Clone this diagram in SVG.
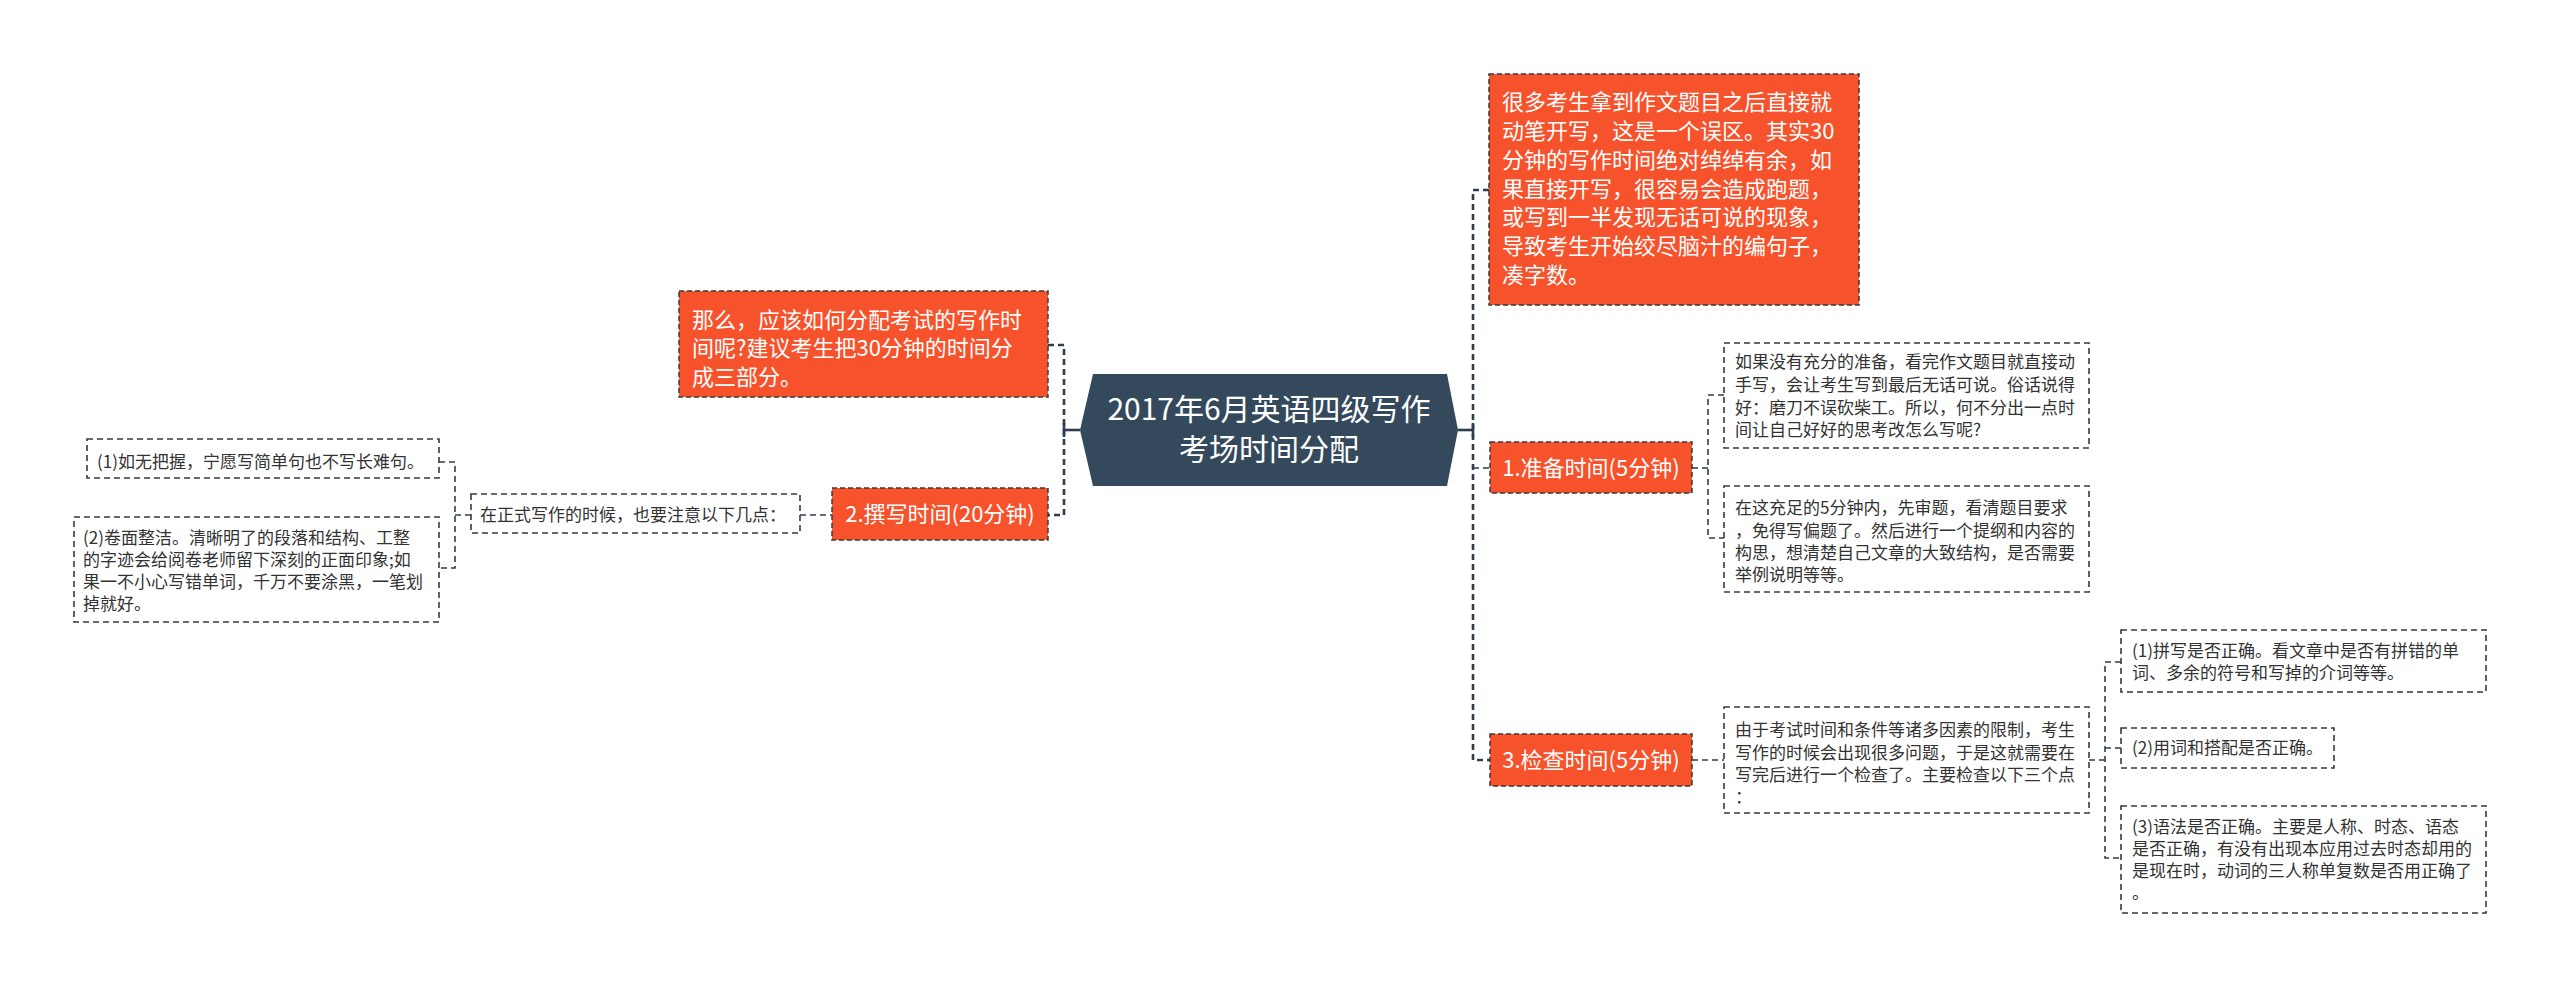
<svg xmlns="http://www.w3.org/2000/svg" width="2560" height="987" viewBox="0 0 2560 987">
<style>
.bg{fill:#ffffff}
.conn{fill:none;stroke:#2c3e50;stroke-width:1.6;stroke-dasharray:6 4}
.trunk{fill:none;stroke:#2c3e50;stroke-width:2.6;stroke-dasharray:6 4}
.stub{fill:none;stroke:#2c3e50;stroke-width:2.6}
.orange{fill:#f6522c;stroke:#3a3a3a;stroke-width:1.5;stroke-dasharray:5 3}
.plain{fill:#ffffff;stroke:#3a3a3a;stroke-width:1.6;stroke-dasharray:6 4}
.root{fill:#344a5c}
.t{font-family:"Noto Sans CJK SC","Noto Sans",sans-serif}
.tw{fill:#ffffff;font-size:22px}
.tr{fill:#ffffff;font-size:30px}
.tp{fill:#333333;font-size:17px}
</style>
<rect class="bg" x="0" y="0" width="2560" height="987"/>
<g id="connectors">
<line class="stub" x1="1458" y1="430" x2="1473" y2="430"/>
<line class="stub" x1="1473" y1="423" x2="1473" y2="437"/>
<path class="trunk" d="M1489 190 H1473 V760 H1490"/>
<line class="conn" x1="1473" y1="468" x2="1490" y2="468"/>
<line class="stub" x1="1080" y1="430" x2="1064" y2="430"/>
<line class="stub" x1="1064" y1="423" x2="1064" y2="437"/>
<path class="trunk" d="M1048 345 H1064 V515 H1048"/>
<path class="conn" d="M1692 468 H1708"/>
<path class="conn" d="M1724 395 H1708 V538 H1724"/>
<line class="conn" x1="1692" y1="760" x2="1724" y2="760"/>
<line class="conn" x1="2089" y1="760" x2="2105" y2="760"/>
<path class="conn" d="M2121 662 H2105 V858 H2121"/>
<line class="conn" x1="2105" y1="748" x2="2121" y2="748"/>
<line class="conn" x1="800" y1="515" x2="832" y2="515"/>
<line class="conn" x1="455" y1="515" x2="471" y2="515"/>
<path class="conn" d="M439 462 H455 V568 H439"/>
</g>
<g id="root">
<polygon class="root" points="1080,430 1093,374 1447,374 1458,430 1447,486 1093,486"/>
<text class="t tr" x="1269" y="420" text-anchor="middle">2017年6月英语四级写作</text>
<text class="t tr" x="1269" y="460" text-anchor="middle">考场时间分配</text>
</g>
<g id="intro-right">
<rect class="orange" x="1489" y="74" width="370" height="231"/>
<text class="t tw" x="1502" y="110">很多考生拿到作文题目之后直接就</text>
<text class="t tw" x="1502" y="139">动笔开写，这是一个误区。其实30</text>
<text class="t tw" x="1502" y="168">分钟的写作时间绝对绰绰有余，如</text>
<text class="t tw" x="1502" y="197">果直接开写，很容易会造成跑题，</text>
<text class="t tw" x="1502" y="225">或写到一半发现无话可说的现象，</text>
<text class="t tw" x="1502" y="254">导致考生开始绞尽脑汁的编句子，</text>
<text class="t tw" x="1502" y="283">凑字数。</text>
</g>
<g id="intro-left">
<rect class="orange" x="679" y="291" width="369" height="106"/>
<text class="t tw" x="692" y="328">那么，应该如何分配考试的写作时</text>
<text class="t tw" x="692" y="356">间呢?建议考生把30分钟的时间分</text>
<text class="t tw" x="692" y="385">成三部分。</text>
</g>
<g id="node-prep">
<rect class="orange" x="1490" y="442" width="202" height="51"/>
<text class="t tw" x="1591" y="476" text-anchor="middle">1.准备时间(5分钟)</text>
</g>
<g id="node-write">
<rect class="orange" x="832" y="488" width="216" height="52"/>
<text class="t tw" x="940" y="522" text-anchor="middle">2.撰写时间(20分钟)</text>
</g>
<g id="node-check">
<rect class="orange" x="1490" y="734" width="202" height="52"/>
<text class="t tw" x="1591" y="768" text-anchor="middle">3.检查时间(5分钟)</text>
</g>
<g id="prep-1">
<rect class="plain" x="1724" y="343" width="365" height="105"/>
<text class="t tp" x="1735" y="368">如果没有充分的准备，看完作文题目就直接动</text>
<text class="t tp" x="1735" y="391">手写，会让考生写到最后无话可说。俗话说得</text>
<text class="t tp" x="1735" y="414">好：磨刀不误砍柴工。所以，何不分出一点时</text>
<text class="t tp" x="1735" y="436">间让自己好好的思考改怎么写呢?</text>
</g>
<g id="prep-2">
<rect class="plain" x="1724" y="486" width="365" height="106"/>
<text class="t tp" x="1735" y="514">在这充足的5分钟内，先审题，看清题目要求</text>
<text class="t tp" x="1735" y="537">，免得写偏题了。然后进行一个提纲和内容的</text>
<text class="t tp" x="1735" y="559">构思，想清楚自己文章的大致结构，是否需要</text>
<text class="t tp" x="1735" y="581">举例说明等等。</text>
</g>
<g id="check-1">
<rect class="plain" x="1724" y="707" width="365" height="106"/>
<text class="t tp" x="1735" y="736">由于考试时间和条件等诸多因素的限制，考生</text>
<text class="t tp" x="1735" y="759">写作的时候会出现很多问题，于是这就需要在</text>
<text class="t tp" x="1735" y="781">写完后进行一个检查了。主要检查以下三个点</text>
<text class="t tp" x="1735" y="803">：</text>
</g>
<g id="check-a">
<rect class="plain" x="2121" y="630" width="365" height="62"/>
<text class="t tp" x="2132" y="657">(1)拼写是否正确。看文章中是否有拼错的单</text>
<text class="t tp" x="2132" y="679">词、多余的符号和写掉的介词等等。</text>
</g>
<g id="check-b">
<rect class="plain" x="2121" y="728" width="213" height="40"/>
<text class="t tp" x="2132" y="754">(2)用词和搭配是否正确。</text>
</g>
<g id="check-c">
<rect class="plain" x="2121" y="806" width="365" height="107"/>
<text class="t tp" x="2132" y="833">(3)语法是否正确。主要是人称、时态、语态</text>
<text class="t tp" x="2132" y="855">是否正确，有没有出现本应用过去时态却用的</text>
<text class="t tp" x="2132" y="877">是现在时，动词的三人称单复数是否用正确了</text>
<text class="t tp" x="2132" y="899">。</text>
</g>
<g id="write-1">
<rect class="plain" x="471" y="494" width="329" height="39"/>
<text class="t tp" x="480" y="521">在正式写作的时候，也要注意以下几点：</text>
</g>
<g id="write-a">
<rect class="plain" x="87" y="439" width="352" height="39"/>
<text class="t tp" x="97" y="468">(1)如无把握，宁愿写简单句也不写长难句。</text>
</g>
<g id="write-b">
<rect class="plain" x="74" y="517" width="365" height="105"/>
<text class="t tp" x="83" y="544">(2)卷面整洁。清晰明了的段落和结构、工整</text>
<text class="t tp" x="83" y="566">的字迹会给阅卷老师留下深刻的正面印象;如</text>
<text class="t tp" x="83" y="588">果一不小心写错单词，千万不要涂黑，一笔划</text>
<text class="t tp" x="83" y="610">掉就好。</text>
</g>
</svg>
